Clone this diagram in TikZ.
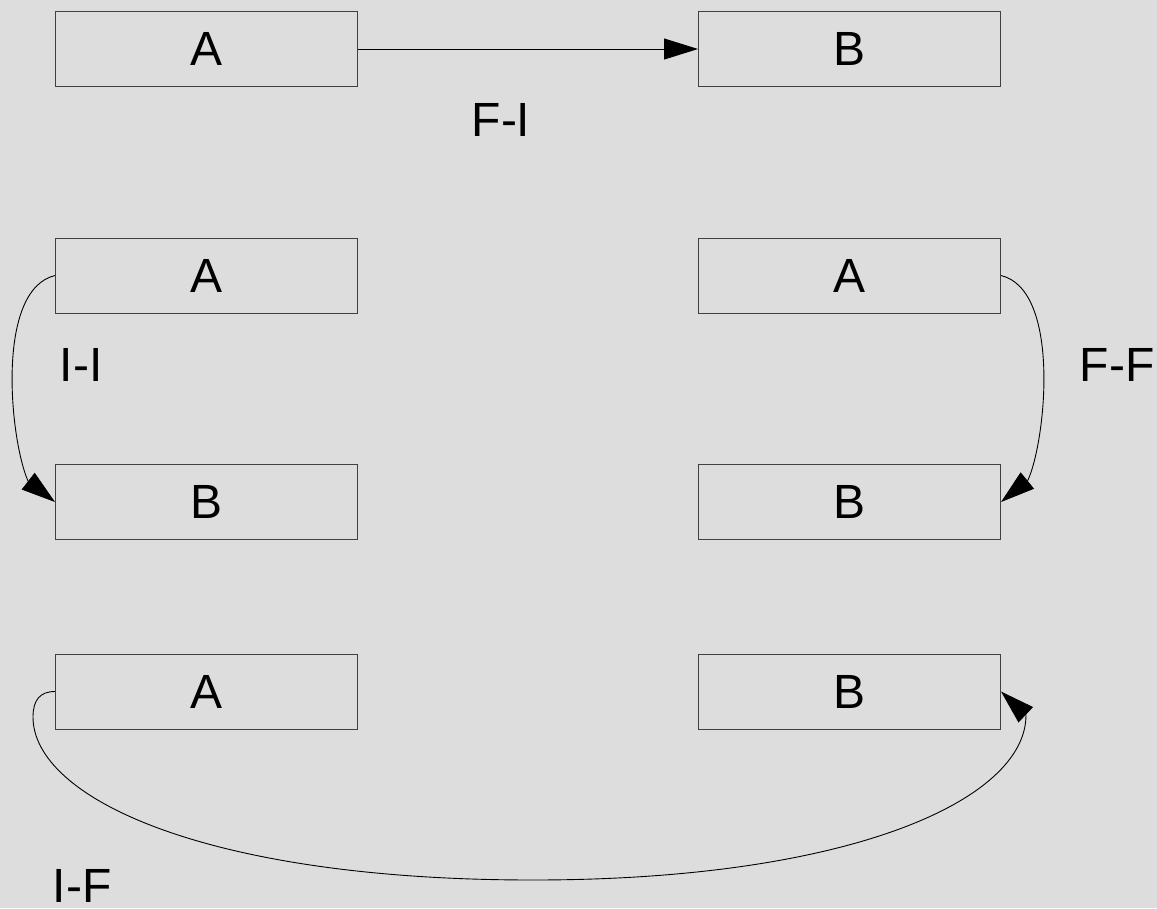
\documentclass[tikz,border=0pt]{standalone}
\usepackage{fontspec}
\setmainfont{Liberation Sans}
\usetikzlibrary{arrows.meta}
\definecolor{bg}{HTML}{DDDDDD}
\definecolor{edge}{HTML}{404040}
\begin{document}
\begin{tikzpicture}[x=1pt,y=-1pt,
  box/.style={draw=edge, line width=1pt, minimum width=302pt, minimum height=75pt,
    inner sep=0pt, font=\fontsize{48}{56}\selectfont},
  lbl/.style={inner sep=0pt, font=\fontsize{48}{56}\selectfont},
  conn/.style={draw=black, line width=0.9pt},
  tip/.style={-{Triangle[length=34pt,width=21pt]}}]
\fill[bg] (0,0) rectangle (1157,908);
\useasboundingbox (0,0) rectangle (1157,908);
% boxes
\node[box] (a1) at (206.5,49) {A};
\node[box] (b1) at (849.5,49) {B};
\node[box] (a2) at (206.5,275.5) {A};
\node[box] (b2) at (206.5,502) {B};
\node[box] (a3) at (849.5,275.5) {A};
\node[box] (b3) at (849.5,502) {B};
\node[box] (a4) at (206.5,691.5) {A};
\node[box] (b4) at (849.5,691.5) {B};
% labels
\node[lbl] (lfi) at (501,120) {F-I};
\node[lbl] (lii) at (81,365) {I-I};
\node[lbl] (lff) at (1117,365) {F-F};
\node[lbl] (lif) at (82,885.5) {I-F};
% helper coordinates
\coordinate (e2) at (28,481);
\coordinate (e3) at (1028,480);
\coordinate (m4) at (33,717);
\coordinate (n4) at (533,880);
\coordinate (e4) at (1026,715);
% connectors
\draw[conn,tip] (a1) -- (b1);
\draw[conn,tip] (a2.west) .. controls (-5,290) and (10,440) .. (e2) -- (b2.west);
\draw[conn,tip] (a3.east) .. controls (1061,290) and (1046,440) .. (e3) -- (b3.east);
\draw[conn,tip] (a4.west) .. controls (40,691.5) and (33,700) .. (m4)
  .. controls (33,797) and (203,880) .. (n4)
  .. controls (850,880) and (1026,800) .. (e4) -- (b4.east);
\end{tikzpicture}
\end{document}
